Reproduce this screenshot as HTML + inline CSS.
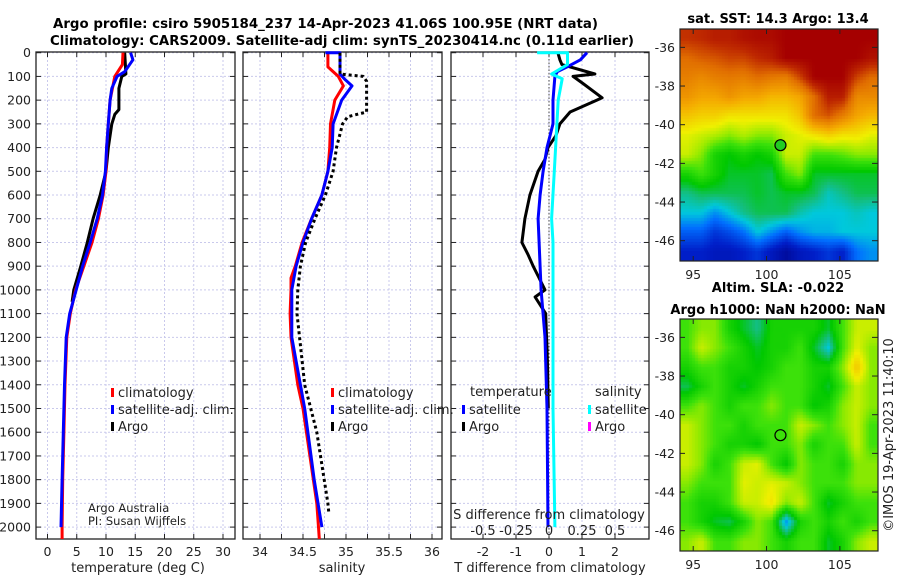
<!DOCTYPE html>
<html><head><meta charset="utf-8"><style>
body{margin:0;background:#fff;width:900px;height:580px;overflow:hidden;position:relative;font-family:"DejaVu Sans","Liberation Sans",sans-serif}
svg{position:absolute;left:0;top:0}
canvas{position:absolute}
</style></head><body>
<canvas id="sst" width="198" height="232" style="left:680px;top:29px"></canvas>
<canvas id="sla" width="198" height="232" style="left:680px;top:319px"></canvas>
<svg id="chart" width="900" height="580" xmlns="http://www.w3.org/2000/svg"></svg>
<script>
// ---------- data ----------
const tDepthClim=[0,50,100,200,300,400,500,600,700,800,900,1000,1100,1200,1400,1600,1800,2000,2050];
const tClim=[12.9,12.8,11.5,10.7,10.4,10.1,10.0,9.5,8.7,7.6,6.2,4.8,3.9,3.3,3.0,2.8,2.6,2.5,2.5];
const tDepthSat=[0,30,80,100,150,200,300,400,500,600,700,800,900,1000,1100,1200,1400,1600,1800,2000];
const tSat=[14.2,14.6,13.2,11.9,11.0,10.7,10.4,10.1,9.9,9.4,8.5,7.3,6.0,4.9,3.8,3.2,2.9,2.7,2.5,2.3];
const tDepthArgo=[0,90,100,150,240,260,300,400,500,600,700,800,900,1000,1050];
const tArgo=[13.2,13.4,12.7,12.2,12.2,11.5,11.0,10.4,10.0,9.0,7.8,6.8,5.7,4.5,4.2];

const sDepthClim=[0,60,100,140,200,300,400,500,600,700,800,900,950,1000,1100,1200,1400,1500,1700,1900,2000,2050];
const sClim=[34.79,34.79,34.91,34.97,34.87,34.82,34.81,34.79,34.72,34.60,34.49,34.41,34.36,34.36,34.35,34.36,34.44,34.50,34.58,34.66,34.68,34.69];
const sDepthSat=[0,0,50,90,110,140,200,300,400,500,600,700,800,900,1000,1200,1500,1800,2000];
const sSat=[34.76,34.93,34.93,34.93,34.98,35.07,34.95,34.85,34.84,34.79,34.72,34.60,34.50,34.42,34.37,34.37,34.52,34.63,34.72];
const sDepthArgo=[0,90,100,120,250,270,300,400,500,600,700,800,900,1000,1100,1400,1600,1900,1940];
const sArgo=[34.93,34.93,35.20,35.24,35.24,35.02,34.96,34.89,34.85,34.76,34.64,34.53,34.47,34.44,34.43,34.52,34.66,34.79,34.80];

const dtDepthSat=[0,30,60,80,100,200,300,400,500,600,700,800,900,1000,1200,1500,2000];
const dtSat=[1.15,0.95,0.55,0.25,0.18,0.12,0.12,-0.06,-0.18,-0.27,-0.33,-0.30,-0.27,-0.24,-0.12,-0.06,-0.03];
const dtDepthArgo=[0,30,50,90,100,130,190,200,250,300,350,400,450,500,600,700,800,850,900,950,1000,1030,1100,1300,1500];
const dtArgo=[0.27,0.33,0.39,1.39,0.73,1.03,1.61,1.45,0.64,0.33,0.21,-0.03,-0.12,-0.33,-0.58,-0.73,-0.82,-0.64,-0.48,-0.30,-0.12,-0.42,-0.1,-0.05,-0.02];
const dsDepthSat=[0,0,50,90,110,200,300,400,500,700,800,1000,1500,2000];
const dsSat=[-0.09,0.14,0.14,0.02,0.10,0.07,0.06,0.05,0.04,0.02,0.03,0.03,0.03,0.045];

const depthTicks=[0,100,200,300,400,500,600,700,800,900,1000,1100,1200,1300,1400,1500,1600,1700,1800,1900,2000];
const tTicks=[0,5,10,15,20,25,30];
const sTicks=[34,34.5,35,35.5,36];
const sGrid=[34,34.25,34.5,34.75,35,35.25,35.5,35.75,36];
const dTTicks=[-2,-1,0,1,2];
const dSTicks=[-0.5,-0.25,0,0.25,0.5];
const latTicks=[-36,-38,-40,-42,-44,-46];
const lonTicks=[95,100,105];

const sstGrid=[
[.92,.93,.95,.95,.97,.98,.98,1,1,1,1,1,1,1],
[.85,.87,.88,.9,.9,.93,.95,1,1,1,1,1,1,.97],
[.82,.8,.82,.83,.82,.85,.83,.82,.9,1,1,1,.9,.85],
[.78,.75,.75,.78,.75,.75,.72,.72,.75,.85,.95,.95,.8,.8],
[.7,.68,.68,.65,.65,.65,.65,.65,.7,.85,.88,.82,.75,.72],
[.62,.6,.58,.55,.58,.55,.55,.6,.62,.65,.68,.65,.65,.62],
[.6,.55,.45,.42,.45,.42,.45,.6,.6,.5,.5,.52,.55,.55],
[.45,.5,.45,.4,.4,.4,.38,.5,.55,.4,.4,.4,.4,.4],
[.35,.38,.38,.38,.38,.4,.38,.4,.4,.38,.32,.35,.38,.38],
[.3,.3,.25,.3,.35,.38,.38,.38,.33,.3,.3,.3,.32,.3],
[.2,.2,.15,.18,.22,.3,.25,.2,.25,.28,.28,.3,.3,.3],
[.12,.12,.1,.1,.12,.15,.1,.05,.1,.12,.15,.12,.22,.25]];
const slaGrid=[
[.5,.55,.55,.45,.4,.35,.45,.45,.45,.45,.4,.5,.6,.6],
[.5,.6,.55,.5,.45,.4,.45,.45,.5,.4,.3,.5,.62,.55],
[.45,.5,.5,.45,.45,.42,.45,.5,.5,.45,.45,.55,.7,.55],
[.38,.45,.5,.45,.4,.45,.5,.5,.5,.45,.4,.5,.6,.55],
[.5,.55,.5,.45,.5,.5,.55,.5,.5,.42,.45,.55,.6,.55],
[.6,.55,.5,.5,.45,.5,.5,.5,.6,.55,.5,.55,.6,.5],
[.6,.55,.5,.45,.45,.42,.5,.5,.55,.45,.5,.5,.6,.5],
[.6,.55,.45,.5,.6,.62,.5,.42,.55,.5,.5,.45,.55,.55],
[.55,.5,.5,.5,.62,.6,.62,.6,.55,.5,.5,.5,.55,.55],
[.5,.45,.45,.5,.6,.6,.65,.55,.6,.5,.4,.45,.5,.5],
[.5,.45,.4,.38,.45,.55,.5,.25,.45,.5,.45,.5,.45,.5],
[.55,.6,.5,.5,.55,.55,.5,.45,.5,.5,.4,.45,.55,.6]];
const argoLon=100.95, argoLat=-41.06;

// ---------- helpers ----------
const NS="http://www.w3.org/2000/svg", svg=document.getElementById('chart');
function el(tag,attrs,parent){const e=document.createElementNS(NS,tag);for(const k in attrs)e.setAttribute(k,attrs[k]);(parent||svg).appendChild(e);return e;}
function txt(s,x,y,o,parent){const e=el('text',Object.assign({x:x,y:y,'font-size':12.5,fill:'#222'},o||{}),parent);e.textContent=s;return e;}
const yD=d=>52.7+d*0.2372;
const P1={l:36,r:235}, P2={l:243,r:442}, P3={l:451,r:649}, TOP=52, BOT=539;
const xT=t=>47.5+t*5.85, xS=s=>260+(s-34)*86, xDT=t=>549+t*33, xDS=s=>549+s*132;

function panel(name,P,xs,xfn,ticksLbl,fmt,leftLabels){
  const g=el('g',{});
  
  
  xs.forEach(v=>{const l=el('line',{x1:xfn(v),x2:xfn(v),y1:TOP,y2:BOT,stroke:'#c9c9ec','stroke-dasharray':'2,2','stroke-width':1},g);
    });
  depthTicks.forEach(d=>{const l=el('line',{x1:P.l,x2:P.r,y1:yD(d),y2:yD(d),stroke:'#c9c9ec','stroke-dasharray':'2,2'},g);
    
    el('line',{x1:P.l,x2:P.l+5,y1:yD(d),y2:yD(d),stroke:'#222'},g);el('line',{x1:P.r-5,x2:P.r,y1:yD(d),y2:yD(d),stroke:'#222'},g);
    if(leftLabels){const t=txt(String(d),31,yD(d)+4.5,{'text-anchor':'end'},g);}});
  xs.forEach(v=>{el('line',{x1:xfn(v),x2:xfn(v),y1:TOP,y2:TOP+5,stroke:'#222'},g);el('line',{x1:xfn(v),x2:xfn(v),y1:BOT-5,y2:BOT,stroke:'#222'},g);});
  if(ticksLbl) ticksLbl.forEach(v=>{const t=txt(fmt(v),xfn(v),556,{'text-anchor':'middle'},g);});
  const r=el('rect',{x:P.l,y:TOP,width:P.r-P.l,height:BOT-TOP,fill:'none',stroke:'#222','stroke-width':1.3},g);
  
  return g;
}
function line(name,xv,dv,xfn,color,w,dash){
  const pts=xv.map((v,i)=>xfn(v).toFixed(1)+','+yD(dv[i]).toFixed(1)).join(' ');
  const p=el('polyline',{points:pts,fill:'none',stroke:color,'stroke-width':w,'stroke-linejoin':'round'});
  if(dash)p.setAttribute('stroke-dasharray',dash);
  
  return p;
}
function legendItem(name,x,y,color,label){
  const m=el('rect',{x:x,y:y-9,width:3,height:9,fill:color});
  
  const t=txt(label,x+7,y,{'font-size':13});
}

// titles
let t=txt('Argo profile: csiro 5905184_237 14-Apr-2023 41.06S 100.95E (NRT data)',53,28,{'font-weight':'bold','font-size':13,fill:'#000',textLength:545,lengthAdjust:'spacingAndGlyphs'});

t=txt('Climatology: CARS2009. Satellite-adj clim: synTS_20230414.nc (0.11d earlier)',50,45,{'font-weight':'bold','font-size':13,fill:'#000',textLength:584,lengthAdjust:'spacingAndGlyphs'});


// panel 1 temperature
panel('temperature-panel',P1,tTicks,xT,tTicks,v=>String(v),true);
line('temp-argo',tArgo,tDepthArgo,xT,'#000',3);
line('temp-climatology',tClim,tDepthClim,xT,'#f00',3);
line('temp-satellite',tSat,tDepthSat,xT,'#00f',3);
t=txt('temperature (deg C)',138,572,{'text-anchor':'middle','font-size':13});
legendItem('legend-climatology',111,397,'#f00','climatology');
legendItem('legend-satellite-adj',111,414,'#00f','satellite-adj. clim.');
legendItem('legend-argo',111,431,'#000','Argo');
t=txt('Argo Australia',88,512,{'font-size':11.5});
t=txt('PI: Susan Wijffels',88,525,{'font-size':11.5});

// panel 2 salinity
panel('salinity-panel',P2,sGrid,xS,sTicks,v=>String(v),false);
line('sal-climatology',sClim,sDepthClim,xS,'#f00',3);
line('sal-satellite',sSat,sDepthSat,xS,'#00f',3);
line('sal-argo',sArgo,sDepthArgo,xS,'#000',3,'3,3');
t=txt('salinity',342,572,{'text-anchor':'middle','font-size':13});
legendItem('legend-sal-climatology',331,397,'#f00','climatology');
legendItem('legend-sal-satellite-adj',331,414,'#00f','satellite-adj. clim.');
legendItem('legend-sal-argo',331,431,'#000','Argo');

// panel 3 differences
panel('difference-panel',P3,dTTicks,xDT,null,null,false);
dTTicks.forEach(v=>{const t=txt(String(v),xDT(v),556,{'text-anchor':'middle'});});
let z=el('line',{x1:xDT(0),x2:xDT(0),y1:TOP,y2:BOT,stroke:'#444','stroke-dasharray':'1.5,2'});

line('t-diff-argo',dtArgo,dtDepthArgo,xDT,'#000',3);
line('t-diff-satellite',dtSat,dtDepthSat,xDT,'#00f',3);
line('s-diff-satellite',dsSat,dsDepthSat,xDS,'#0ff',3);
t=txt('temperature',470,396,{'font-size':13});
t=txt('salinity',595,396,{'font-size':13});
legendItem('legend-tdiff-satellite',462,414,'#00f','satellite');
legendItem('legend-tdiff-argo',462,431,'#000','Argo');
legendItem('legend-sdiff-satellite',588,414,'#0ff','satellite');
legendItem('legend-sdiff-argo',588,431,'#f0f','Argo');
t=txt('S difference from climatology',549,519,{'text-anchor':'middle','font-size':13});
dSTicks.forEach(v=>{const t=txt(String(v).replace('0.','0.'),xDS(v),535,{'text-anchor':'middle','font-size':13});});
t=txt('T difference from climatology',550,572,{'text-anchor':'middle','font-size':13});

// ---------- maps ----------
const stops=[[0,[0,0,130]],[0.12,[0,30,200]],[0.22,[0,110,255]],[0.3,[0,200,220]],[0.36,[20,190,120]],[0.42,[0,200,0]],[0.5,[60,225,10]],[0.56,[150,235,0]],[0.63,[240,240,0]],[0.74,[245,170,0]],[0.85,[225,110,0]],[0.93,[190,40,0]],[1,[165,0,0]]];
function cmap(v){v=Math.max(0,Math.min(1,v));for(let i=1;i<stops.length;i++){if(v<=stops[i][0]){const a=stops[i-1],b=stops[i],f=(v-a[0])/(b[0]-a[0]);return a[1].map((c,k)=>Math.round(c+(b[1][k]-c)*f));}}return stops[stops.length-1][1];}
const lon0=94.1,lon1=107.6,lat0=-35.05,lat1=-47.05;
function drawMap(id,grid,block){
  const c=document.getElementById(id),ctx=c.getContext('2d'),W=c.width,H=c.height,R=grid.length,C=grid[0].length;
  for(let y=0;y<H;y+=block)for(let x=0;x<W;x+=block){
    const gx=Math.max(0,Math.min(C-1.001,(x+block/2)/W*C-0.5)),gy=Math.max(0,Math.min(R-1.001,(y+block/2)/H*R-0.5));
    const i=Math.floor(gy),j=Math.floor(gx),fy=gy-i,fx=gx-j;
    const v=grid[i][j]*(1-fx)*(1-fy)+grid[i][j+1]*fx*(1-fy)+grid[i+1][j]*(1-fx)*fy+grid[i+1][j+1]*fx*fy;
    const col=cmap(v);ctx.fillStyle='rgb('+col.join(',')+')';ctx.fillRect(x,y,block,block);}
}
drawMap('sst',sstGrid,3);
drawMap('sla',slaGrid,3);

function mapAxes(name,top,h,title1,title2,fillDot){
  const g=el('g',{});
  const xL=v=>680+(v-lon0)/(lon1-lon0)*198, yL=v=>top+(v-lat0)/(lat1-lat0)*h;
  el('rect',{x:680,y:top,width:198,height:h,fill:'none',stroke:'#222','stroke-width':1.2},g);
  latTicks.forEach(v=>{el('line',{x1:872,x2:878,y1:yL(v),y2:yL(v),stroke:'#222'},g);el('line',{x1:680,x2:685,y1:yL(v),y2:yL(v),stroke:'#222'},g);
    const t=txt(String(v),675,yL(v)+4.5,{'text-anchor':'end'},g);});
  lonTicks.forEach(v=>{el('line',{x1:xL(v),x2:xL(v),y1:top+h-5,y2:top+h,stroke:'#222'},g);el('line',{x1:xL(v),x2:xL(v),y1:top,y2:top+5,stroke:'#222'},g);
    const t=txt(String(v),xL(v),top+h+18,{'text-anchor':'middle'},g);});
  const c=el('circle',{cx:xL(argoLon),cy:yL(argoLat),r:5.5,fill:fillDot,stroke:'#000','stroke-width':1.2},g);
  
  if(title2){let t=txt(title1,778,top-27,{'text-anchor':'middle','font-weight':'bold','font-size':13,fill:'#000'},g);
    t=txt(title2,778,top-5,{'text-anchor':'middle','font-weight':'bold','font-size':13,fill:'#000'},g);}
  else{const t=txt(title1,778,top-6,{'text-anchor':'middle','font-weight':'bold','font-size':13,fill:'#000'},g);}
}
mapAxes('sst-map-axes',29,232,'sat. SST: 14.3 Argo: 13.4',null,'#22cc22');
mapAxes('sla-map-axes',319,232,'Altim. SLA: -0.022','Argo h1000: NaN h2000: NaN','none');
t=txt('©IMOS 19-Apr-2023 11:40:10',893,435,{'text-anchor':'middle','font-size':13,transform:'rotate(-90 893 435)'});

</script>
</body></html>
